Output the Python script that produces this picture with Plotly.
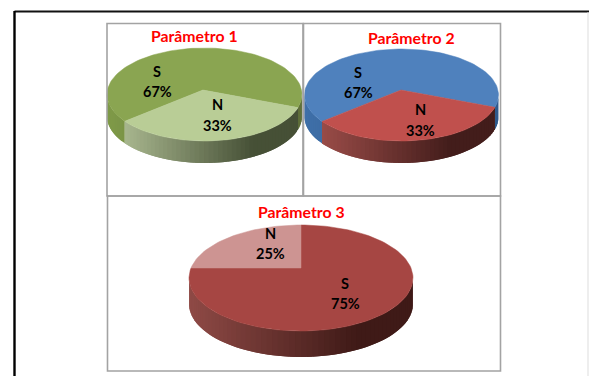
import math
import plotly.graph_objects as go

categories = ["S", "N"]
values_p1 = [67, 33]
values_p2 = [67, 33]
values_p3 = [75, 25]
titles = ["Parâmetro 1", "Parâmetro 2", "Parâmetro 3"]

W, H = 589, 376
FONT = "Lato"

pies = [
    dict(vals=values_p1, first=230, cx=204.5, cy=94.5, apx=203, apy=90, a=97.5, b=46.5, depth=22,
         top=["#8aa551", "#b9cd96"], side=["#7f9a48", "#b5c49a"], dark=["#5f6f3a", "#465036"],
         title=(194, 35), pos=[[(157, 71), (157, 91)], [(217, 104), (217, 125)]]),
    dict(vals=values_p2, first=230, cx=401.5, cy=95, apx=401, apy=90, a=97, b=46, depth=22,
         top=["#4f81bd", "#c0504d"], side=["#3f6fa8", "#a5524e"], dark=["#2f5a8c", "#431d1b"],
         title=(411, 37), pos=[[(358, 72), (358, 92)], [(420, 109), (420, 130)]]),
    dict(vals=values_p3, first=0, cx=301, cy=278, apx=301, apy=268, a=112, b=53, depth=26,
         top=["#a64643", "#cd9492"], side=["#8f4a46", "#8f4a46"], dark=["#3f1a17", "#3f1a17"],
         title=(301, 211), pos=[[(345, 283), (345, 303)], [(270, 233), (270, 253)]]),
]


def rgb(h):
    return tuple(int(h[i:i + 2], 16) for i in (1, 3, 5))


def mix(c1, c2, f):
    f = max(0, min(1, f))
    r1, r2 = rgb(c1), rgb(c2)
    return "rgb(%d,%d,%d)" % tuple(round(p + (q - p) * f) for p, q in zip(r1, r2))


def rim(p, deg):
    """Where the ray at pie angle deg (clockwise from 12) leaves the tilted top ellipse."""
    t = math.radians(deg)
    dx, dy = math.sin(t) * p["a"], -math.cos(t) * p["b"]
    ox, oy = (p["apx"] - p["cx"]) / p["a"], (p["apy"] - p["cy"]) / p["b"]
    ux, uy = dx / p["a"], dy / p["b"]
    A = ux * ux + uy * uy
    B = 2 * (ox * ux + oy * uy)
    C = ox * ox + oy * oy - 1
    s = (-B + math.sqrt(B * B - 4 * A * C)) / (2 * A)
    return p["apx"] + s * dx, p["apy"] + s * dy


fig = go.Figure()


def poly(xs, ys, color, lw=0.0):
    fig.add_trace(go.Scatter(x=xs, y=ys, mode="lines", fill="toself", fillcolor=color,
                             line=dict(color=color, width=lw), hoverinfo="skip", showlegend=False))


for p in pies:
    total = sum(p["vals"])
    start = p["first"]
    arcs = []
    for v in p["vals"]:
        sweep = 360 * v / total
        n = max(2, int(sweep / 2.5))
        arcs.append([rim(p, start + sweep * i / n) for i in range(n + 1)])
        start += sweep
    # sides first; each strip runs on under the next one so no seams show
    for k, arc in enumerate(arcs):
        for i in range(len(arc) - 1):
            x0, y0 = arc[i]
            x1, y1 = arc[i + 1]
            if y0 >= p["cy"] - 0.01 and y1 >= p["cy"] - 0.01:
                xs = [x0, x1]
                ys = [y0, y1]
                if i + 2 < len(arc) and arc[i + 2][1] >= p["cy"] - 0.01:
                    xs.append(arc[i + 2][0])
                    ys.append(arc[i + 2][1])
                f = ((x0 + x1) / 2 - (p["cx"] - p["a"])) / (1.5 * p["a"])
                col = mix(p["side"][k], p["dark"][k], f)
                poly(xs + xs[::-1] + [xs[0]],
                     ys + [y + p["depth"] for y in ys[::-1]] + [ys[0]], col)
    # then the top
    for k, arc in enumerate(arcs):
        poly([p["apx"]] + [q[0] for q in arc] + [p["apx"]],
             [p["apy"]] + [q[1] for q in arc] + [p["apy"]], p["top"][k], 0.5)

shapes = []
for (x0, y0, x1, y1) in [(107, 23.5, 303, 196), (303.5, 23.5, 500.5, 196), (107.5, 196, 500.5, 371)]:
    shapes.append(dict(type="rect", x0=x0, y0=y0, x1=x1, y1=y1,
                       line=dict(color="#a3a3a3", width=1.6), layer="above"))
shapes.append(dict(type="line", x0=14.5, y0=11.5, x1=589, y1=11.5, line=dict(color="#111111", width=2)))
shapes.append(dict(type="line", x0=14.5, y0=11, x1=14.5, y1=376, line=dict(color="#000000", width=2.4)))
shapes.append(dict(type="line", x0=588, y0=12, x1=588, y1=376, line=dict(color="#dddddd", width=1)))

ann = []
for p, t in zip(pies, titles):
    ann.append(dict(x=p["title"][0], y=p["title"][1], text=t, showarrow=False,
                    font=dict(family=FONT, size=15.8, color="#ff0000", weight="bold")))
    total = sum(p["vals"])
    for cat, v, (a, b) in zip(categories, p["vals"], p["pos"]):
        ann.append(dict(x=a[0], y=a[1], text=cat, showarrow=False,
                        font=dict(family=FONT, size=14.5, color="#000000", weight="bold")))
        ann.append(dict(x=b[0], y=b[1], text="%d%%" % round(100 * v / total), showarrow=False,
                        font=dict(family=FONT, size=14.5, color="#000000", weight="bold")))

fig.update_layout(
    width=W, height=H, margin=dict(l=0, r=0, t=0, b=0), autosize=False,
    paper_bgcolor="white", plot_bgcolor="white", showlegend=False,
    xaxis=dict(range=[0, W], visible=False, fixedrange=True),
    yaxis=dict(range=[H, 0], visible=False, fixedrange=True),
    shapes=shapes, annotations=ann,
)

fig.write_html("out.html", config={"displayModeBar": False},
               post_script="document.body.style.margin='0';document.documentElement.style.overflow='hidden';")
